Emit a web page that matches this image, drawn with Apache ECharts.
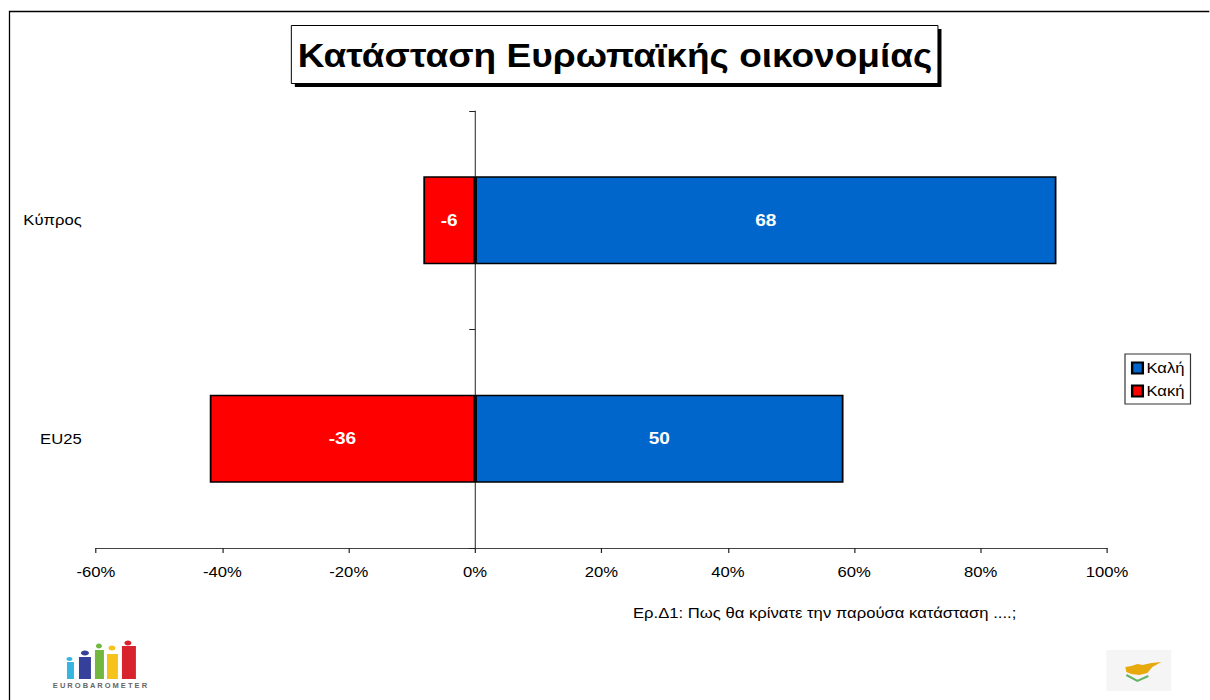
<!DOCTYPE html>
<html>
<head>
<meta charset="utf-8">
<title>Κατάσταση Ευρωπαϊκής οικονομίας</title>
<style>
  html, body { margin: 0; padding: 0; background: #fff; overflow: hidden; }
  /* the original slide is stretched sideways, text included */
  #main { width: 1017px; height: 700px; transform: scaleX(1.1898); transform-origin: 0 0; }
</style>
<script src="https://cdn.jsdelivr.net/npm/echarts@6/dist/echarts.min.js"></script>
</head>
<body>
<div id="main"></div>
<script>
// chart data
var categories = ['Κύπρος', 'EU25'];
var goodName = 'Καλή';
var badName = 'Κακή';
// bar lengths as drawn (they differ from the printed labels in the original)
var goodValues = [92, 58.3];
var badValues = [-8.2, -42];
var goodLabels = ['68', '50'];
var badLabels = ['-6', '-36'];
var axisMin = -60;
var axisMax = 100;
var axisStep = 20;

var titleText = 'Κατάσταση Ευρωπαϊκής οικονομίας';
var noteText = 'Ερ.Δ1: Πως θα κρίνατε την παρούσα κατάσταση ....;';
var logoText = 'E U R O B A R O M E T E R';

var fontName = '"Liberation Sans", Arial, sans-serif';
var stretch = 1.1898;

// page pixel -> chart pixel, because of the sideways stretch
function px(x) { return x / stretch; }

// logo pieces, bottom left and bottom right corners
function logoBar(x, y, w, h, color) {
  return { type: 'rect', shape: { x: x, y: y, width: w, height: h }, style: { fill: color } };
}
function logoHead(cx, cy, rx, ry, color) {
  return { type: 'ellipse', shape: { cx: cx, cy: cy, rx: rx, ry: ry }, style: { fill: color } };
}

var chart = echarts.init(document.getElementById('main'), null, { renderer: 'svg' });

chart.setOption({
  backgroundColor: '#fff',
  animation: false,
  textStyle: { fontFamily: fontName },
  title: {
    text: noteText,
    left: px(633),
    top: 606,
    padding: 0,
    textStyle: { fontFamily: fontName, fontSize: 14, fontWeight: 'normal', color: '#000' }
  },
  legend: {
    orient: 'vertical',
    left: px(1125),
    top: 354,
    padding: [7, 5, 6, 5],
    itemGap: 9,
    itemWidth: 9,
    itemHeight: 11,
    icon: 'rect',
    borderColor: '#333',
    borderWidth: 1,
    data: [goodName, badName],
    textStyle: { fontFamily: fontName, fontSize: 14, color: '#000', padding: [0, 0, 0, -2] }
  },
  grid: { left: px(96), right: px(103), top: 111, bottom: 152, containLabel: false },
  xAxis: {
    type: 'value',
    min: axisMin,
    max: axisMax,
    interval: axisStep,
    axisLine: { show: true, lineStyle: { color: '#444', width: 1 } },
    axisTick: { show: true, length: 5, lineStyle: { color: '#222' } },
    splitLine: { show: false },
    axisLabel: { color: '#000', fontSize: 14, margin: 17, fontFamily: fontName, formatter: '{value}%' }
  },
  yAxis: [
    {
      // the upright line through zero, with its ticks
      type: 'category',
      inverse: true,
      data: categories,
      axisLine: { show: true, onZero: true, lineStyle: { color: '#444', width: 1 } },
      axisTick: { show: true, length: 5, lineStyle: { color: '#222' } },
      axisLabel: { show: false }
    },
    {
      // category names stay at the far left of the plot
      type: 'category',
      inverse: true,
      position: 'left',
      data: categories,
      axisLine: { show: false, onZero: false },
      axisTick: { show: false },
      axisLabel: { show: true, color: '#000', fontSize: 14, margin: 12, fontFamily: fontName }
    }
  ],
  series: [
    {
      name: goodName,
      type: 'bar',
      stack: 'total',
      barWidth: 88,
      data: goodValues,
      itemStyle: { color: '#0066CC', borderColor: '#000', borderWidth: 1.5 },
      label: {
        show: true,
        position: 'inside',
        color: '#fff',
        fontSize: 16,
        fontWeight: 'bold',
        fontFamily: fontName,
        formatter: function (p) { return goodLabels[p.dataIndex]; }
      }
    },
    {
      name: badName,
      type: 'bar',
      stack: 'total',
      barWidth: 88,
      data: badValues,
      itemStyle: { color: '#FF0000', borderColor: '#000', borderWidth: 1.5 },
      label: {
        show: true,
        position: 'inside',
        color: '#fff',
        fontSize: 16,
        fontWeight: 'bold',
        fontFamily: fontName,
        formatter: function (p) { return badLabels[p.dataIndex]; }
      }
    }
  ],
  graphic: [
    {
      // this group undoes the stretch, children are in page pixels
      type: 'group',
      scaleX: 1 / stretch,
      children: [
        // outer frame, open on the right and at the bottom
        { type: 'polyline', shape: { points: [[9.5, 700], [9.5, 11.5], [1210, 11.5]] }, style: { stroke: '#000', lineWidth: 1.3, fill: null } },
        // title box with its hard shadow
        { type: 'rect', shape: { x: 295, y: 29, width: 647, height: 58 }, style: { fill: '#000' } },
        { type: 'rect', shape: { x: 291.5, y: 25.5, width: 647, height: 58 }, style: { fill: '#fff', stroke: '#000', lineWidth: 1 } },
        { type: 'text', x: 615, y: 56, scaleX: 1.09, style: { x: 0, y: 0, text: titleText, fill: '#000', font: 'bold 34px ' + fontName, align: 'center', verticalAlign: 'middle' } },
        // eurobarometer logo
        logoBar(67, 662, 7, 17, '#35b5e0'),
        logoHead(69.5, 659, 3, 2, '#35b5e0'),
        logoBar(79, 657, 12, 22, '#34409a'),
        logoHead(85, 653, 4, 2.5, '#34409a'),
        logoBar(95, 650, 9, 29, '#72b83e'),
        logoHead(99, 646, 3, 2.5, '#72b83e'),
        logoBar(107, 654, 11, 25, '#f6c21c'),
        logoHead(112, 648, 3.5, 2.5, '#f6c21c'),
        logoBar(122, 646, 14, 33, '#d8232f'),
        logoHead(128, 643, 3.5, 2.5, '#d8232f'),
        { type: 'text', style: { x: 100, y: 686, text: logoText, fill: '#666', font: 'bold 7.5px ' + fontName, align: 'center', verticalAlign: 'middle' } },
        // cyprus flag
        { type: 'rect', shape: { x: 1107, y: 650, width: 65, height: 41 }, style: { fill: '#f5f5f5' } },
        { type: 'polygon', shape: { points: [[1126, 667], [1132, 666], [1138, 664], [1143, 665], [1152, 663], [1162, 662], [1153, 667], [1148, 673], [1140, 675], [1132, 674], [1127, 672]] }, style: { fill: '#e8a90c' } },
        { type: 'polyline', shape: { points: [[1127, 675], [1138, 681], [1149, 676]] }, style: { stroke: '#62b462', lineWidth: 2, fill: null } }
      ]
    }
  ]
});
</script>
</body>
</html>
